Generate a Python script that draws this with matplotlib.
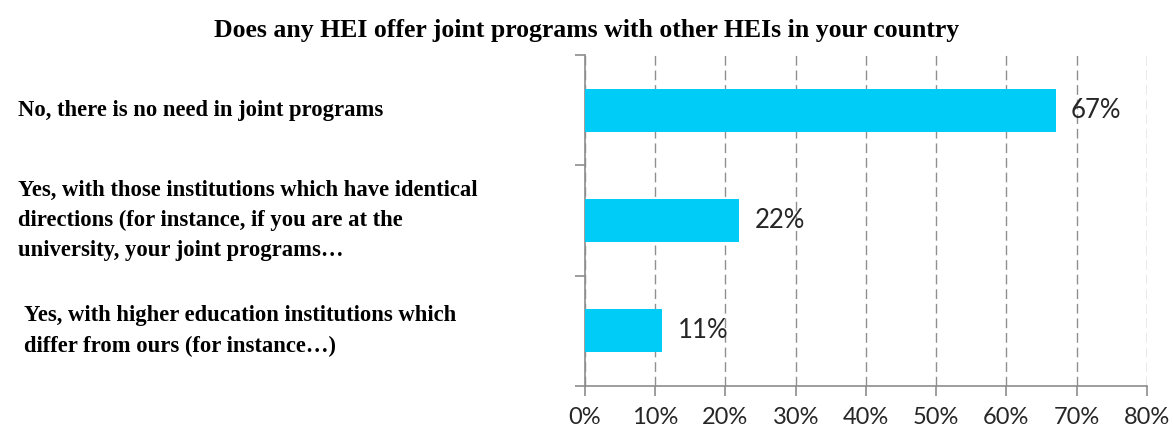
#!/usr/bin/env python3
# -*- coding: utf-8 -*-

import matplotlib
matplotlib.use("Agg")
import matplotlib.pyplot as plt
import matplotlib.ticker as mticker
from matplotlib.transforms import blended_transform_factory

# ====== DATA ======
categories = [
    "No, there is no need in joint programs",
    "Yes, with those institutions which have identical\ndirections (for instance, if you are at the\nuniversity, your joint programs…",
    "Yes, with higher education institutions which\ndiffer from ours (for instance…)",
]
values = [0.67, 0.22, 0.11]
value_labels = ["67%", "22%", "11%"]
x_ticks = [0.0, 0.1, 0.2, 0.3, 0.4, 0.5, 0.6, 0.7, 0.8]
title = "Does any HEI offer joint programs with other HEIs in your country"

# ====== STYLE ======
BAR_COLOR = "#00CCF8"
AXIS_COLOR = "#8c8c8c"
SERIF = ["Liberation Serif", "DejaVu Serif"]
SANS = ["Lato", "DejaVu Sans"]

fig = plt.figure(figsize=(11.73, 4.32), dpi=100)
ax = fig.add_axes([0.4987, 0.1065, 0.479, 0.7665])

ypos = list(range(len(categories)))
ax.barh(ypos, values, height=0.39, color=BAR_COLOR, zorder=3)

ax.set_xlim(0, 0.8)
ax.set_ylim(len(categories) - 0.5, -0.5)

# Grid behind bars
ax.set_axisbelow(True)
ax.xaxis.set_major_locator(mticker.FixedLocator(x_ticks))
ax.xaxis.set_major_formatter(mticker.PercentFormatter(1.0, decimals=0))
ax.grid(True, axis="x", linestyle=(0, (7, 3.5)), linewidth=1.0, color="#8f8f8f", zorder=1)

# Only left and bottom spines
for side in ("top", "right"):
    ax.spines[side].set_visible(False)
for side in ("left", "bottom"):
    ax.spines[side].set_color(AXIS_COLOR)
    ax.spines[side].set_linewidth(1.2)

ax.tick_params(axis="x", direction="out", length=7, width=1.2, color=AXIS_COLOR,
               labelsize=17, labelcolor="#262626", pad=8)
for lab in ax.get_xticklabels():
    lab.set_fontfamily(SANS)

# y ticks only at category boundaries
ax.yaxis.set_major_locator(mticker.NullLocator())
ax.yaxis.set_minor_locator(mticker.FixedLocator([i - 0.5 for i in range(len(categories) + 1)]))
ax.tick_params(axis="y", which="minor", direction="out", length=7, width=1.2, color=AXIS_COLOR)

# Value labels next to bars
for y, v, s in zip(ypos, values, value_labels):
    ax.annotate(s, (v, y), xytext=(11, 0), textcoords="offset points",
                ha="left", va="center", fontsize=18.5, color="#262626",
                family=SANS, zorder=4)

# Category labels, left aligned in figure space
trans = blended_transform_factory(fig.transFigure, ax.transData)
label_x = [0.0155, 0.0155, 0.0205]
for y, txt, lx in zip(ypos, categories, label_x):
    ax.text(lx, y, txt, transform=trans, ha="left", va="center",
            fontsize=16.3, fontweight="bold", family=SERIF,
            linespacing=1.58, clip_on=False)

fig.text(0.5, 0.93, title, ha="center", va="center", fontsize=18.5,
         fontweight="bold", family=SERIF)

plt.savefig("out.png", dpi=100)
plt.close(fig)
